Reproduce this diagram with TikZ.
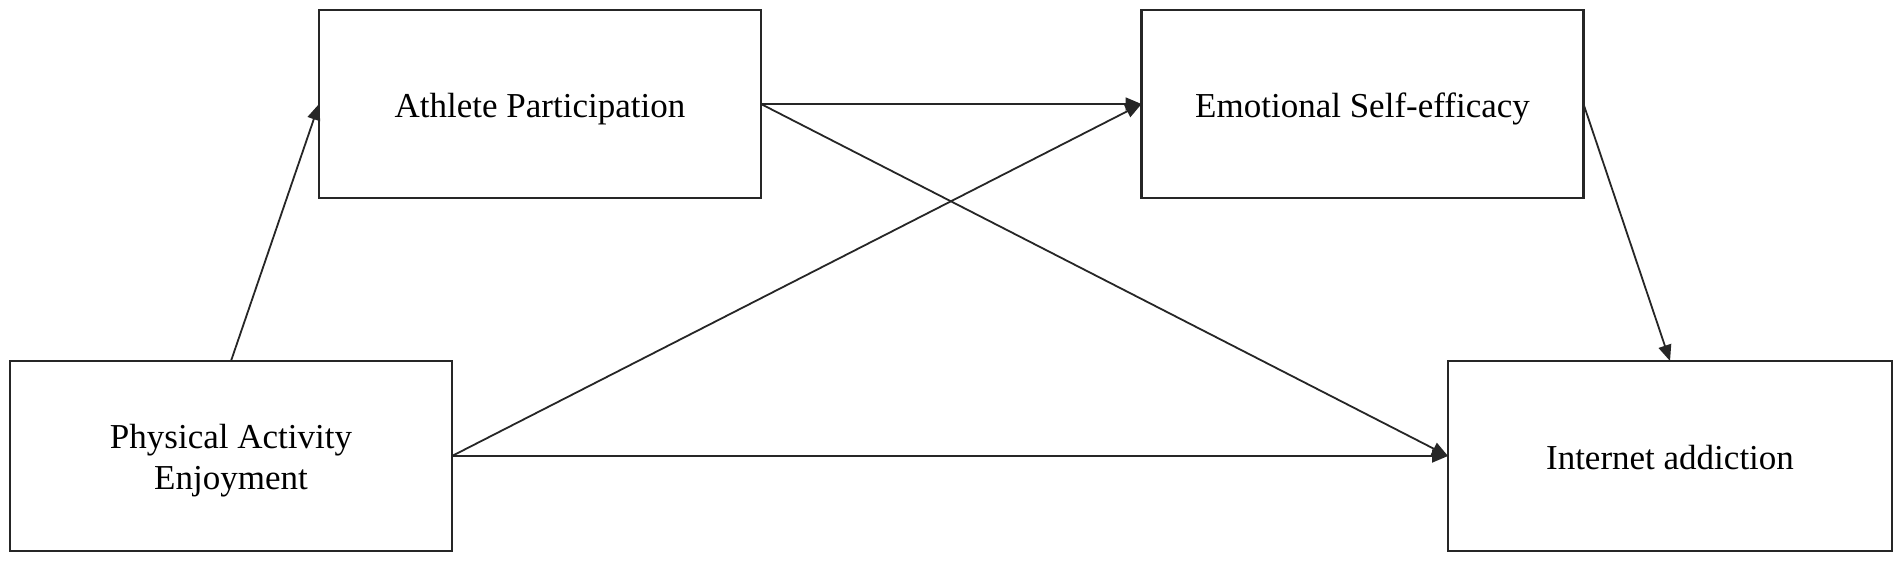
\documentclass[tikz,border=0pt]{standalone}
\usepackage{fontspec}
\setmainfont{Liberation Serif}
\usetikzlibrary{arrows.meta}
\newcommand\lowtxt[2]{\raisebox{-#1}[12pt][3.8pt]{#2}}
\begin{document}
\begin{tikzpicture}[x=0.5pt,y=-0.5pt,
  box/.style={draw=black!85,line width=1.1pt,rectangle,outer sep=0pt,inner sep=0pt,
    minimum width=221pt,minimum height=94pt,align=center,
    font=\fontsize{17.5pt}{20.5pt}\selectfont},
  link/.style={draw=black!85,line width=0.9pt,-{Triangle[length=8pt,width=6.5pt]}}]
\useasboundingbox (0,0) rectangle (1902,562);
\fill[white] (0,0) rectangle (1902,562);
\node[box] (ap) at (540,104) {\lowtxt{2.5pt}{Athlete Participation}};
\node[box] (es) at (1362.5,104) {\lowtxt{2.5pt}{Emotional Self-efficacy}};
\node[box,minimum height=95pt] (pae) at (231,456) {\lowtxt{2.5pt}{Physical Activity}\\\lowtxt{2.5pt}{Enjoyment}};
\node[box,minimum width=222pt,minimum height=95pt] (ia) at (1670,456) {\lowtxt{2.4pt}{Internet addiction}};
\draw[link] (pae.north) -- (ap.west);
\draw[link] (ap.east) -- (es.west);
\draw[link] (ap.east) -- (ia.west);
\draw[link] (pae.east) -- (es.west);
\draw[link] (pae.east) -- (ia.west);
\draw[link] (es.east) -- (ia.north);
\end{tikzpicture}
\end{document}
